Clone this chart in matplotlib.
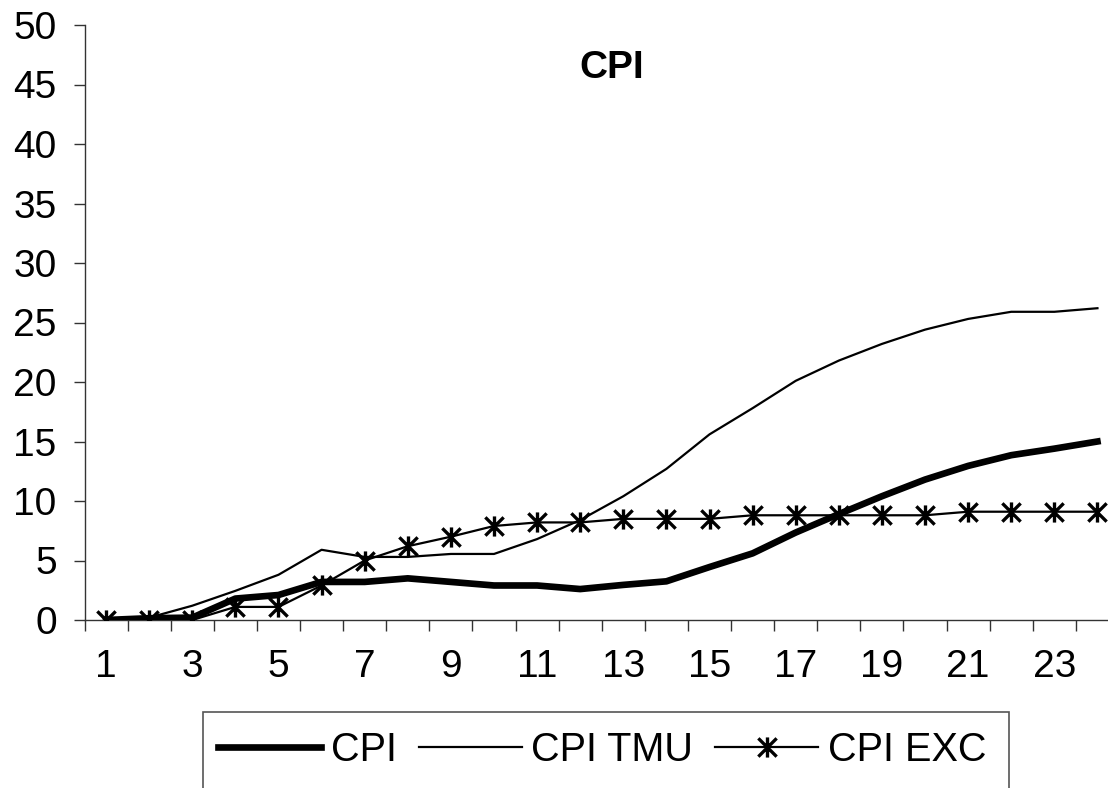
import numpy as np
import matplotlib.pyplot as plt
from matplotlib.patches import Rectangle
from matplotlib.path import Path

plt.rcParams['font.family'] = ['Liberation Sans', 'DejaVu Sans']

# donnees
periods = np.arange(1, 25)
cpi = [0, 0.15, 0.2, 1.8, 2.1, 3.2, 3.2, 3.5, 3.2, 2.9, 2.9, 2.6,
       2.95, 3.25, 4.45, 5.6, 7.35, 8.9, 10.4, 11.8, 12.95, 13.85, 14.4, 15.0]
cpi_tmu = [0, 0.2, 1.2, 2.45, 3.8, 5.9, 5.3, 5.3, 5.55, 5.55, 6.8, 8.4,
           10.4, 12.7, 15.6, 17.8, 20.1, 21.8, 23.2, 24.4, 25.3, 25.9, 25.9, 26.2]
cpi_exc = [0, 0, 0, 1.1, 1.1, 2.9, 5.0, 6.2, 7.0, 7.9, 8.2, 8.2,
           8.5, 8.5, 8.5, 8.8, 8.8, 8.8, 8.8, 8.8, 9.1, 9.1, 9.1, 9.1]
xlabels = [str(p) if p % 2 == 1 else "" for p in periods]

# marqueur etoile facon Excel : un X plus un trait vertical
star = Path([(-1, -1), (1, 1), (-1, 1), (1, -1), (0, -1.1), (0, 1.1)],
            [Path.MOVETO, Path.LINETO, Path.MOVETO, Path.LINETO, Path.MOVETO, Path.LINETO])

W, H = 1108, 788
fig = plt.figure(figsize=(W / 100, H / 100), dpi=100)
ax = fig.add_axes([84.5 / W, 1 - 620 / H, (1119 - 84.5) / W, (620 - 25) / H])

ax.plot(periods, cpi, color="black", lw=4.8, solid_joinstyle="round", label="CPI", zorder=3)
ax.plot(periods, cpi_tmu, color="black", lw=1.6, label="CPI TMU", zorder=2)
ax.plot(periods, cpi_exc, color="black", lw=1.6, marker=star, ms=14.5, mew=2.4,
        label="CPI EXC", zorder=4)

ax.set_xlim(0.5, 24.5)
ax.set_ylim(0, 50)
ax.set_yticks(np.arange(0, 51, 5))
ax.set_xticks(periods)
ax.set_xticklabels(xlabels)
ax.set_xticks(np.arange(0.5, 25, 1), minor=True)
ax.tick_params(axis="x", which="major", length=0, pad=21, labelsize=28)
ax.tick_params(axis="x", which="minor", length=8, width=1, direction="out", color="#333333")
ax.tick_params(axis="y", length=8, width=1, direction="out", pad=12, labelsize=28, color="#333333")
for s in ["top", "right"]:
    ax.spines[s].set_visible(False)
for s in ["left", "bottom"]:
    ax.spines[s].set_linewidth(1)
    ax.spines[s].set_color("#333333")

fig.text(612 / W, 1 - 68 / H, "CPI", ha="center", va="center", fontsize=28, fontweight="bold")

# boite de la legende (coupee en bas)
fig.patches.append(Rectangle((203 / W, -0.1), (1009 - 203) / W, 0.1 + 1 - 712 / H,
                             transform=fig.transFigure, fill=False, edgecolor="#555555", lw=1.2))
fig.legend(loc="center left", bbox_to_anchor=(218 / W, 1 - 750 / H), ncol=3, frameon=False,
           fontsize=28.5, handlelength=2.6, handletextpad=0.25, columnspacing=0.55, borderpad=0,
           borderaxespad=0)

fig.savefig("out.png", dpi=100)
